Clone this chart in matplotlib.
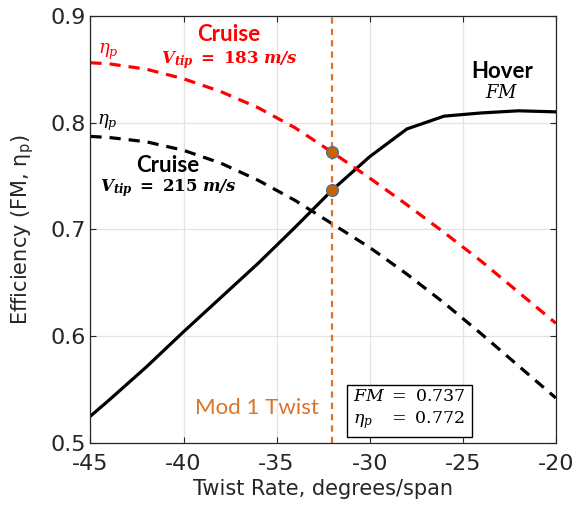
import matplotlib
matplotlib.use("Agg")
import matplotlib.pyplot as plt
import numpy as np

plt.rcParams['mathtext.fontset'] = 'dejavuserif'
plt.rcParams['axes.unicode_minus'] = False

# twist rate sweep, degrees/span
twist = [-45, -44, -42, -40, -38, -36, -34, -32, -30, -28, -26, -24, -22, -20]

# hover figure of merit
fm_hover = [0.525, 0.540, 0.571, 0.604, 0.636, 0.668, 0.702, 0.737,
            0.768, 0.794, 0.806, 0.809, 0.811, 0.810]
# propulsive efficiency in cruise, Vtip = 183 m/s
eta_183 = [0.856, 0.855, 0.850, 0.841, 0.829, 0.814, 0.795, 0.772,
           0.748, 0.723, 0.697, 0.670, 0.641, 0.612]
# propulsive efficiency in cruise, Vtip = 215 m/s
eta_215 = [0.787, 0.786, 0.782, 0.774, 0.762, 0.746, 0.727, 0.705,
           0.683, 0.658, 0.631, 0.602, 0.572, 0.542]

mod1_twist = -32
mod1_fm = 0.737
mod1_eta = 0.772

orange = '#D9742A'

fig = plt.figure(figsize=(5.76, 5.09), dpi=100)
ax = fig.add_axes([0.157, 0.130, 0.808, 0.839])

ax.plot(twist, fm_hover, color='black', lw=2.3)
ax.plot(twist, eta_183, color='#FF0000', lw=2.3, ls=(0, (3.5, 2.5)))
ax.plot(twist, eta_215, color='black', lw=2.3, ls=(0, (3.5, 2.5)))

ax.axvline(mod1_twist, color=orange, lw=1.6, ls=(0, (2.8, 2.3)))
ax.plot([mod1_twist, mod1_twist], [mod1_eta, mod1_fm], ls='none', marker='o',
        ms=8.5, mfc='#C86400', mec='#41719C', mew=0.9, zorder=5)

ax.set_xlim(-45, -20)
ax.set_ylim(0.5, 0.9)
ax.set_xticks(np.arange(-45, -19, 5))
ax.set_yticks([0.5, 0.6, 0.7, 0.8, 0.9])
ax.set_yticklabels(['0.5', '0.6', '0.7', '0.8', '0.9'])
ax.grid(True, color='#E3E3E3', lw=0.9)
ax.set_axisbelow(True)
ax.tick_params(direction='in', top=True, right=True, labelsize=16,
               colors='#262626', length=4)
ax.tick_params(axis='x', pad=8)
for s in ax.spines.values():
    s.set_color('#262626')
    s.set_linewidth(0.9)

ax.set_xlabel('Twist Rate, degrees/span', fontsize=15, color='#262626',
              labelpad=4)
ax.set_ylabel(r'Efficiency (FM, η$_\mathsf{p}$)', fontsize=15, color='#262626',
              labelpad=10)

# curve labels
ax.text(-37.55, 0.882, 'Cruise', color='#FF0000', fontsize=16, fontweight='bold',
        family='Lato', ha='center', va='center')
ax.text(-37.55, 0.8587, r'$\mathbfit{V}_{\mathbfit{tip}}\ \mathbf{=\ 183}\ \mathbfit{m/s}$',
        color='#FF0000', fontsize=12, ha='center', va='center')
ax.text(-44.05, 0.866, r'$\eta_p$', color='#FF0000', fontsize=13,
        ha='center', va='center')

ax.text(-40.85, 0.760, 'Cruise', color='black', fontsize=16, fontweight='bold',
        family='Lato', ha='center', va='center')
ax.text(-40.8, 0.7387, r'$\mathbfit{V}_{\mathbfit{tip}}\ \mathbf{=\ 215}\ \mathbfit{m/s}$',
        color='black', fontsize=12, ha='center', va='center')
ax.text(-44.1, 0.800, r'$\eta_p$', color='black', fontsize=13,
        ha='center', va='center')

ax.text(-22.87, 0.848, 'Hover', color='black', fontsize=16, fontweight='bold',
        family='Lato', ha='center', va='center')
ax.text(-22.9, 0.828, r'$FM$', color='black', fontsize=13,
        ha='center', va='center')

ax.text(-32.75, 0.5326, 'Mod 1 Twist', color=orange, fontsize=16,
        family='Lato', ha='right', va='center')

ax.text(-27.88, 0.5316,
        r'$FM\ =\ 0.737$' + '\n' + r'$\eta_p\quad=\ 0.772$',
        fontsize=12.5, ha='center', va='center', multialignment='left',
        linespacing=1.3,
        bbox=dict(boxstyle='square,pad=0.35', fc='white', ec='black', lw=1))

fig.savefig('out.png', dpi=100)
